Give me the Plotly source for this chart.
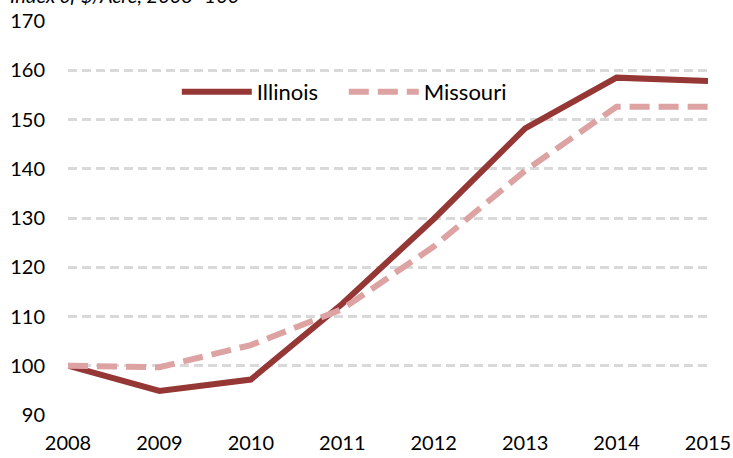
import plotly.graph_objects as go

years = [2008, 2009, 2010, 2011, 2012, 2013, 2014, 2015]
illinois = [100, 94.9, 97.2, 112.6, 129.8, 148.2, 158.5, 157.8]
missouri = [100, 99.7, 104.2, 111.5, 124.2, 139.6, 152.6, 152.6]
y_ticks = [90, 100, 110, 120, 130, 140, 150, 160, 170]

font_family = "Lato, 'Open Sans', sans-serif"

fig = go.Figure()
fig.add_trace(go.Scatter(x=years, y=illinois, mode="lines", name="Illinois",
                         line=dict(color="#953735", width=6)))
fig.add_trace(go.Scatter(x=years, y=missouri, mode="lines", name="Missouri",
                         line=dict(color="#DDA2A2", width=6, dash="20px,9px")))

fig.update_layout(
    width=733, height=458,
    margin=dict(l=68, r=25, t=21, b=43, autoexpand=False),
    paper_bgcolor="white", plot_bgcolor="white",
    font=dict(family=font_family, size=20, color="#000000"),
    showlegend=True,
    legend=dict(orientation="h", x=0.17, y=0.82, xanchor="left", yanchor="middle",
                itemwidth=70, entrywidth=82, font=dict(size=22),
                bgcolor="rgba(0,0,0,0)"),
    xaxis=dict(range=[2008, 2015], tickmode="array", tickvals=years,
               ticktext=[str(y) for y in years], showgrid=False, zeroline=False,
               showline=False, ticks="", ticklen=0, automargin=False,
               ticklabelstandoff=14),
    yaxis=dict(range=[90, 170], tickmode="array", tickvals=y_ticks,
               showgrid=True, gridcolor="#D9D9D9", gridwidth=3,
               griddash="9px,5px", zeroline=False, showline=False, ticks="",
               ticklabelstandoff=22, automargin=False),
)
fig.add_annotation(text="<i>Index of $/Acre, 2008=100</i>", xref="paper", yref="paper",
                   x=-0.093, y=1.0, xanchor="left", yanchor="bottom", showarrow=False,
                   yshift=12, font=dict(size=20))

fig.write_html("out.html", config={"displayModeBar": False},
               post_script="document.body.style.margin='0';")
